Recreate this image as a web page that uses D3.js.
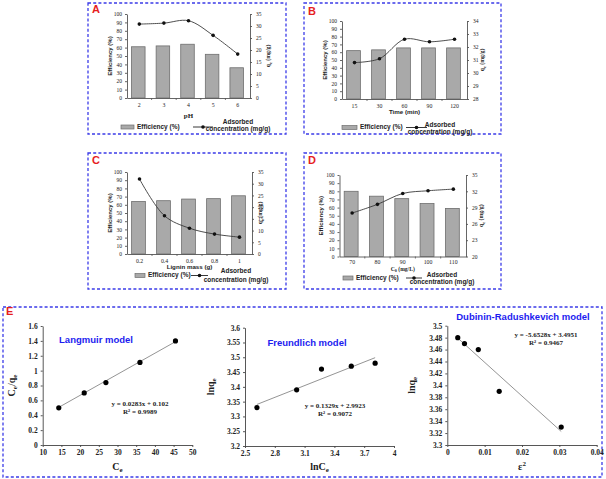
<!DOCTYPE html>
<html><head><meta charset="utf-8">
<script src="https://cdn.jsdelivr.net/npm/d3@7"></script>
<style>body{margin:0;background:#fff}svg{display:block}</style>
</head><body>
<script>
// ---------- DATA ----------
const pHCats = ["2","3","4","5","6"];
const pHEff = [61,62,64,52,36];
const pHQe = [30.8,31.2,32.2,26.1,18.3];
const timeCats = ["15","30","60","90","120"];
const timeEff = [62,63,65.5,65.5,65.5];
const timeQe = [30.8,31.1,32.6,32.4,32.6];
const massCats = ["0.2","0.4","0.6","0.8","1"];
const massEff = [64,65,67,67.5,71];
const massQe = [32.0,16.3,11.0,8.5,7.2];
const concCats = ["70","80","90","100","110"];
const concEff = [80,74,71,65,59];
const concQe = [28.0,29.6,31.6,32.1,32.4];
const effTicks = [0,10,20,30,40,50,60,70,80,90,100];
const qeTicksA = [0,5,10,15,20,25,30,35];
const qeTicksB = [28,29,30,31,32,33,34];
const qeTicksD = [20,23,26,29,32,35];

const langCe = [14.3,21.1,26.9,36.0,45.5];
const langCeQe = [0.5,0.7,0.84,1.11,1.4];
const langFit = [0.0283, 0.102];
const freLnCe = [2.62,3.02,3.27,3.57,3.81];
const freLnQe = [3.33,3.39,3.46,3.47,3.48];
const freFit = [0.1329, 2.9923];
const drEps2 = [0.0028,0.0046,0.0083,0.0139,0.0305];
const drLnQe = [3.48,3.47,3.46,3.39,3.33];
const drFit = [-5.6528, 3.4951];
const langXTicks = [10,15,20,25,30,35,40,45,50];
const langYTicks = [0,0.2,0.4,0.6,0.8,1,1.2,1.4,1.6];
const freXTicks = [2.5,2.8,3.1,3.4,3.7,4];
const freYTicks = [3.2,3.25,3.3,3.35,3.4,3.45,3.5,3.55,3.6];
const drXTicks = [0,0.01,0.02,0.03,0.04];
const drYTicks = [3.3,3.32,3.34,3.36,3.38,3.4,3.42,3.44,3.46,3.48,3.5];

// ---------- DRAW ----------
const W=606,H=479;
const svg=d3.select("body").append("svg").attr("width",W).attr("height",H);
const SERIF="'Liberation Serif','Times New Roman',serif";
const SANS="'Liberation Sans',Arial,sans-serif";
const BLUE="#3b3be8";
const fmt=d=>String(+(+d).toFixed(3));

function dashedBox(x0,y0,x1,y1){
  svg.append("rect").attr("x",x0).attr("y",y0).attr("width",x1-x0).attr("height",y1-y0)
    .attr("fill","none").attr("stroke",BLUE).attr("stroke-width",1.3).attr("stroke-dasharray","3,2.2");
}
function letter(t,x,y){
  svg.append("text").attr("x",x).attr("y",y).text(t).attr("fill","#e61e1e")
    .attr("font-family",SANS).attr("font-weight","bold").attr("font-size",11).attr("dominant-baseline","middle");
}

function barPanel(o){
  const g=svg.append("g");
  const x=d3.scaleBand().domain(o.cats).range([o.l,o.r]).padding(0);
  const yL=d3.scaleLinear().domain([0,100]).range([o.b,o.t]);
  const yR=d3.scaleLinear().domain([o.rt[0],o.rt[o.rt.length-1]]).range([o.b,o.t]);
  const bw=x.bandwidth()*0.55;
  g.selectAll(".bar").data(o.eff).join("rect")
    .attr("x",(d,i)=>x(o.cats[i])+(x.bandwidth()-bw)/2-1).attr("width",bw)
    .attr("y",d=>yL(d)).attr("height",d=>o.b-yL(d))
    .attr("fill","#a9a9a9").attr("stroke","#6e6e6e").attr("stroke-width",0.8);
  const ax=g.append("g").attr("transform",`translate(${o.l},0)`)
    .call(d3.axisLeft(yL).tickValues(effTicks).tickFormat(fmt).tickSize(2).tickSizeOuter(0).tickPadding(3));
  const axR=g.append("g").attr("transform",`translate(${o.r},0)`)
    .call(d3.axisRight(yR).tickValues(o.rt).tickFormat(fmt).tickSize(2).tickSizeOuter(0).tickPadding(4));
  const axB=g.append("g").attr("transform",`translate(0,${o.b})`)
    .call(d3.axisBottom(x).tickSize(0).tickPadding(o.xpad||5));
  [ax,axR,axB].forEach(a=>{
    a.selectAll("path,line").attr("stroke","#555").attr("stroke-width",0.9);
    a.selectAll("text").attr("font-family",SERIF).attr("font-size",5.5).attr("fill","#222");
  });
  axB.selectAll("text").attr("font-size",5.8);
  g.selectAll(".bt").data(o.cats.slice(1)).join("line")
    .attr("x1",d=>x(d)).attr("x2",d=>x(d)).attr("y1",o.b).attr("y2",o.b+2)
    .attr("stroke","#555").attr("stroke-width",0.8);
  const pts=o.qe.map((v,i)=>[x(o.cats[i])+x.bandwidth()/2, yR(v)]);
  g.append("path").attr("d",d3.line().curve(d3.curveCatmullRom.alpha(0.5))(pts))
    .attr("fill","none").attr("stroke","#3a3a3a").attr("stroke-width",0.9);
  g.selectAll(".dot").data(pts).join("circle").attr("cx",d=>d[0]).attr("cy",d=>d[1]).attr("r",1.8).attr("fill","#111");
  const my=(o.t+o.b)/2;
  g.append("text").attr("transform",`translate(${o.lt},${my}) rotate(-90)`).attr("text-anchor","middle")
    .attr("dominant-baseline","middle").text("Efficiency (%)").attr("font-family",SANS).attr("font-weight","bold").attr("font-size",6).attr("fill","#222");
  const rtT=g.append("text").attr("transform",`translate(${o.rtx},${my}) rotate(-90)`).attr("text-anchor","middle")
    .attr("dominant-baseline","middle").attr("font-family",SERIF).attr("font-weight","bold").attr("font-size",5.8).attr("fill","#222");
  rtT.append("tspan").text("q");
  rtT.append("tspan").text("e").attr("font-size",4.3).attr("dy",1.5);
  rtT.append("tspan").text(" (mg/g)").attr("dy",-1.5);
  const xt=g.append("text").attr("x",(o.l+o.r)/2).attr("y",o.xty).attr("text-anchor","middle").attr("dominant-baseline","middle")
    .attr("font-weight","bold").attr("fill","#222");
  if(o.xtitle==="pH"){xt.text("pH").attr("font-family",SERIF).attr("font-size",7);}
  else if(o.xtitle==="C0"){xt.attr("font-family",SERIF).attr("font-size",5.6);
    xt.append("tspan").text("C"); xt.append("tspan").text("0").attr("font-size",4.2).attr("dy",1.3); xt.append("tspan").text(" (mg/L)").attr("dy",-1.3);}
  else {xt.text(o.xtitle).attr("font-family",SANS).attr("font-size",6.2);}
  const L=o.leg;
  g.append("rect").attr("x",L.bx).attr("y",L.by-2).attr("width",L.bw).attr("height",4)
    .attr("fill","#a9a9a9").attr("stroke","#6e6e6e").attr("stroke-width",0.7);
  g.append("text").attr("x",L.bx+L.bw+3).attr("y",L.by).attr("dominant-baseline","middle").text("Efficiency (%)")
    .attr("font-family",SANS).attr("font-weight","bold").attr("font-size",6.5).attr("fill","#222");
  g.append("line").attr("x1",L.lx).attr("x2",L.lx+L.lw).attr("y1",L.by).attr("y2",L.by).attr("stroke","#222").attr("stroke-width",0.9);
  g.append("circle").attr("cx",L.lx+L.lw/2).attr("cy",L.by).attr("r",1.8).attr("fill","#111");
  g.append("text").attr("x",L.tx).attr("y",L.ty1).attr("text-anchor","middle").attr("dominant-baseline","middle").text("Adsorbed")
    .attr("font-family",SANS).attr("font-weight","bold").attr("font-size",6.5).attr("fill","#222");
  g.append("text").attr("x",L.tx).attr("y",L.ty2).attr("text-anchor","middle").attr("dominant-baseline","middle").text("concentration (mg/g)")
    .attr("font-family",SANS).attr("font-weight","bold").attr("font-size",6.5).attr("fill","#222");
}

dashedBox(88,3,286,134); letter("A",92,10);
barPanel({cats:pHCats,eff:pHEff,qe:pHQe,rt:qeTicksA,l:127,r:250,t:14,b:98,lt:110,rtx:269,xty:116,xtitle:"pH",
  leg:{bx:121,by:127,bw:13,lx:193,lw:20,tx:238,ty1:122.5,ty2:129.5}});
dashedBox(304,3,501,134); letter("B",308,12);
barPanel({cats:timeCats,eff:timeEff,qe:timeQe,rt:qeTicksB,l:342,r:467,t:21,b:99,lt:325,rtx:483,xty:112.5,xtitle:"Time (min)",
  leg:{bx:342,by:127.5,bw:15,lx:406,lw:21,tx:440,ty1:125,ty2:132}});
dashedBox(88,153,286,289); letter("C",92,161);
barPanel({cats:massCats,eff:massEff,qe:massQe,rt:qeTicksA,l:127,r:252,t:172,b:254,lt:110,rtx:261,xty:267.5,xtitle:"Lignin mass (g)",
  leg:{bx:135,by:275.5,bw:10,lx:191,lw:17,tx:236,ty1:271.5,ty2:280}});
dashedBox(304,153,501,289); letter("D",308,161);
barPanel({cats:concCats,eff:concEff,qe:concQe,rt:qeTicksD,l:339.5,r:466,t:175,b:256.5,lt:321,rtx:482,xty:269.8,xtitle:"C0",xpad:3.5,
  leg:{bx:343,by:278,bw:10,lx:406,lw:16,tx:442,ty1:275,ty2:282.7}});

// ---------- PANEL E ----------
dashedBox(3,307,602,477); letter("E",6,312);

function scatterPanel(o){
  const g=svg.append("g");
  const x=d3.scaleLinear().domain([o.xt[0],o.xt[o.xt.length-1]]).range([o.l,o.r]);
  const y=d3.scaleLinear().domain([o.yt[0],o.yt[o.yt.length-1]]).range([o.b,o.t]);
  const axL=g.append("g").attr("transform",`translate(${o.l},0)`)
    .call(d3.axisLeft(y).tickValues(o.yt).tickFormat(fmt).tickSize(2).tickSizeOuter(0).tickPadding(3));
  const axB=g.append("g").attr("transform",`translate(0,${o.b})`)
    .call(d3.axisBottom(x).tickValues(o.xt).tickFormat(fmt).tickSize(2).tickSizeOuter(0).tickPadding(3));
  [axL,axB].forEach(a=>{
    a.selectAll("path,line").attr("stroke","#444").attr("stroke-width",0.9);
    a.selectAll("text").attr("font-family",SERIF).attr("font-weight","bold").attr("font-size",7.5).attr("fill","#222");
  });
  const x0=d3.min(o.xs), x1=d3.max(o.xs);
  g.append("line").attr("x1",x(x0)).attr("x2",x(x1)).attr("y1",y(o.fit[0]*x0+o.fit[1])).attr("y2",y(o.fit[0]*x1+o.fit[1]))
    .attr("stroke","#888").attr("stroke-width",0.9);
  g.selectAll(".p").data(o.xs).join("circle").attr("cx",d=>x(d)).attr("cy",(d,i)=>y(o.ys[i])).attr("r",2.6).attr("fill","#000");
  g.append("text").attr("x",o.mx).attr("y",o.my).attr("text-anchor","middle").attr("dominant-baseline","middle").text(o.model)
    .attr("font-family",SANS).attr("font-weight","bold").attr("font-size",9.5).attr("fill","#1c1cf0");
  g.append("text").attr("x",o.ex).attr("y",o.ey).attr("text-anchor","middle").attr("dominant-baseline","middle").text(o.eq)
    .attr("font-family",SERIF).attr("font-weight","bold").attr("font-size",7).attr("fill","#222");
  g.append("text").attr("x",o.ex).attr("y",o.ey+8).attr("text-anchor","middle").attr("dominant-baseline","middle").text(o.r2)
    .attr("font-family",SERIF).attr("font-weight","bold").attr("font-size",7).attr("fill","#222");
  const yt=g.append("text").attr("transform",`translate(${o.ylx},${(o.t+o.b)/2}) rotate(-90)`).attr("text-anchor","middle")
    .attr("dominant-baseline","middle").attr("font-family",SERIF).attr("font-weight","bold").attr("font-size",10).attr("fill","#222");
  o.ylab(yt);
  const xt=g.append("text").attr("x",(o.l+o.r)/2).attr("y",o.xly).attr("text-anchor","middle").attr("dominant-baseline","middle")
    .attr("font-family",SERIF).attr("font-weight","bold").attr("font-size",10).attr("fill","#222");
  o.xlab(xt);
}
function sub(t,base,s){t.append("tspan").text(base);t.append("tspan").text(s).attr("font-size",7).attr("dy",2);}

scatterPanel({xs:langCe,ys:langCeQe,fit:langFit,xt:langXTicks,yt:langYTicks,l:42.7,r:192.3,t:326,b:445,
  model:"Langmuir model",mx:96,my:340,eq:"y = 0.0283x + 0.102",r2:"R² = 0.9989",ex:140,ey:404.5,ylx:13,xly:468,
  ylab:t=>{sub(t,"C","e");t.append("tspan").text("/q").attr("dy",-2);t.append("tspan").text("e").attr("font-size",7).attr("dy",2);},
  xlab:t=>sub(t,"C","e")});
scatterPanel({xs:freLnCe,ys:freLnQe,fit:freFit,xt:freXTicks,yt:freYTicks,l:245,r:394,t:327.7,b:446,
  model:"Freundlich model",mx:307,my:343.5,eq:"y = 0.1329x + 2.9923",r2:"R² = 0.9072",ex:335,ey:406,ylx:212,xly:468,
  ylab:t=>sub(t,"lnq","e"),xlab:t=>sub(t,"lnC","e")});
scatterPanel({xs:drEps2,ys:drLnQe,fit:drFit,xt:drXTicks,yt:drYTicks,l:447.3,r:596.7,t:325.7,b:445,
  model:"Dubinin-Radushkevich model",mx:523,my:317,eq:"y = -5.6528x + 3.4951",r2:"R² = 0.9467",ex:546,ey:335,ylx:413,xly:468,
  ylab:t=>sub(t,"lnq","e"),xlab:t=>{t.append("tspan").text("ε");t.append("tspan").text("2").attr("font-size",7).attr("dy",-4);}});
</script>
</body></html>
